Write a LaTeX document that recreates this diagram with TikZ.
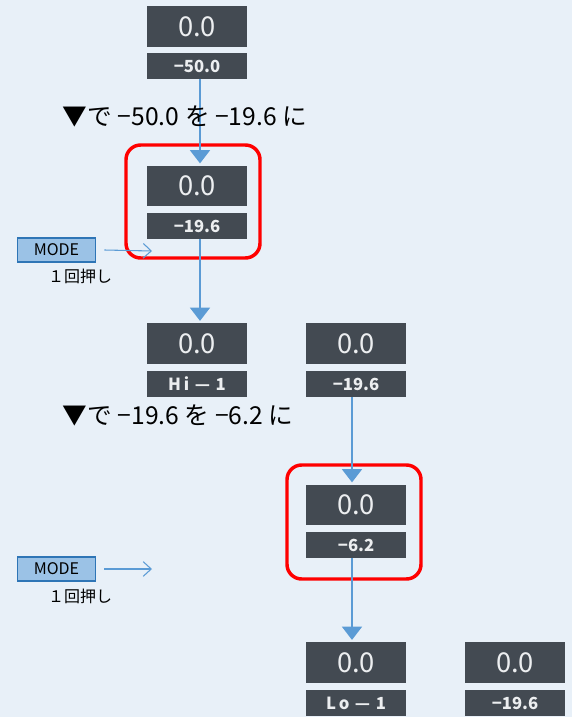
\documentclass[tikz,border=0pt]{standalone}
\usepackage{fontspec}
\setmainfont{Noto Sans CJK JP}
\usetikzlibrary{arrows.meta}
\definecolor{bg}{RGB}{232,240,248}
\definecolor{disp}{RGB}{67,74,82}
\definecolor{dtxt}{RGB}{236,238,240}
\definecolor{lnblue}{RGB}{91,155,213}
\definecolor{modefill}{RGB}{155,194,230}
\definecolor{modeedge}{RGB}{46,117,182}
\tikzset{
  big/.style={fill=disp, text=dtxt, minimum width=75pt, minimum height=30.5pt, inner sep=0pt, font=\fontsize{20.5}{20.5}\selectfont},
  small/.style={fill=disp, text=dtxt, minimum width=75pt, minimum height=19.5pt, inner sep=0pt, font=\fontsize{12.5}{12.5}\selectfont\bfseries},
  flow/.style={draw=lnblue, line width=1.5pt, -{Triangle[width=15pt,length=10pt]}},
  hl/.style={draw=red, line width=2.6pt, rounded corners=11pt},
  modebox/.style={draw=modeedge, fill=modefill, line width=0.9pt, minimum width=59pt, minimum height=18pt, inner sep=0pt, font=\fontsize{12}{12}\selectfont},
  push/.style={draw=lnblue, line width=0.8pt, -{Straight Barb[length=6pt,width=11pt]}},
  note/.style={font=\fontsize{18.5}{18.5}\selectfont, inner sep=0pt},
  pnote/.style={font=\fontsize{12}{12}\selectfont, inner sep=0pt}
}
\begin{document}
\begin{tikzpicture}[x=0.75pt,y=-0.75pt]
\fill[bg] (0,0) rectangle (572,717);
\useasboundingbox (0,0) rectangle (572,717);
% column 1
\node[big] (b1) at (197,26.5) {0.0};
\node[small] (s1) at (197,66) {−50.0};
\node[big] (b2) at (197,186) {0.0};
\node[small] (s2) at (197,226) {−19.6};
\node[big] (b3) at (197,343.5) {0.0};
\node[small] (s3) at (197,384) {H\,i\,\,—\,\,1};
% column 2
\node[big] (b4) at (356,343.5) {0.0};
\node[small] (s4) at (356,384) {−19.6};
\node[big] (b5) at (356,505) {0.0};
\node[small] (s5) at (356,545) {−6.2};
\node[big] (b6) at (356,662.5) {0.0};
\node[small] (s6) at (356,703) {L\,o\,\,—\,\,1};
% column 3
\node[big] (b7) at (515,662.5) {0.0};
\node[small] (s7) at (515,703) {−19.6};
% highlight frames
\draw[hl] (126,145) rectangle (260,258);
\draw[hl] (287,465) rectangle (421,579);
% flow arrows
\draw[flow] ([xshift=2.25pt]s1.south) -- ([xshift=2.25pt,yshift=1.5pt]b2.north);
\draw[flow] ([xshift=2.25pt]s2.south) -- ([xshift=2.25pt,yshift=1.5pt]b3.north);
\draw[flow] ([xshift=-3pt]s4.south) -- ([xshift=-3pt,yshift=1.5pt]b5.north);
\draw[flow] ([xshift=-3pt]s5.south) -- ([xshift=-3pt,yshift=1.5pt]b6.north);
% notes
\node[note] (n1) at (185,116) {▼で −50.0 を −19.6 に};
\node[note] (n2) at (178,415) {▼で −19.6 を −6.2 に};
% MODE presses
\node[modebox] (m1) at (56.5,250) {MODE};
\coordinate (m1e) at (152,251);
\draw[push] ([xshift=6pt]m1.east) -- (m1e);
\node[pnote] (p1) at (80,276) {１回押し};
\node[modebox] (m2) at (56.5,569) {MODE};
\coordinate (m2e) at (152,569);
\draw[push] ([xshift=6pt]m2.east) -- (m2e);
\node[pnote] (p2) at (80,596) {１回押し};
\end{tikzpicture}
\end{document}
